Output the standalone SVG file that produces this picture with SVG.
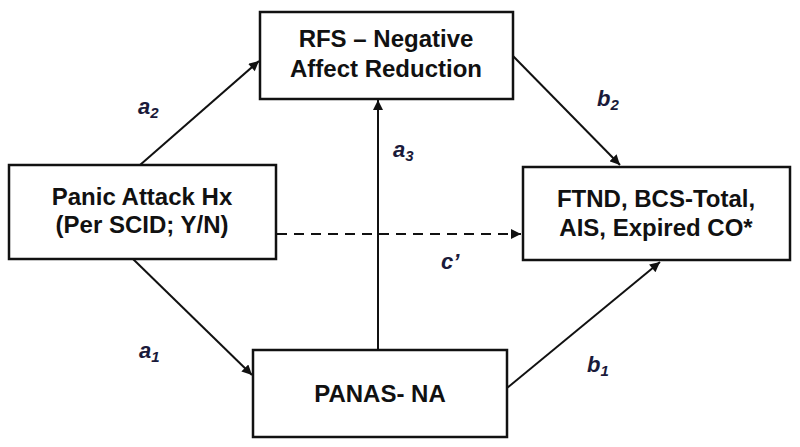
<svg xmlns="http://www.w3.org/2000/svg" width="800" height="447" viewBox="0 0 800 447">
<style>
.box{fill:#fff;stroke:#111;stroke-width:2.5}
.t{font-family:"Liberation Sans",Arial,sans-serif;font-weight:bold;font-size:24px;fill:#111;text-anchor:middle}
.lab{font-family:"Liberation Sans",Arial,sans-serif;font-weight:bold;font-style:italic;font-size:22px;fill:#1a1a3a}
.sub{font-size:15px}
.c{stroke:#111;stroke-width:2;fill:none}
</style>
<defs>
<marker id="ah" viewBox="0 0 10 10" refX="10" refY="5" markerWidth="11" markerHeight="10" markerUnits="userSpaceOnUse" orient="auto">
<path d="M0,0 L10,5 L0,10 z" fill="#111"/>
</marker>
</defs>
<g id="connectors">
<line class="c" x1="140" y1="165" x2="259" y2="61" marker-end="url(#ah)"/>
<line class="c" x1="378" y1="350" x2="378" y2="100" marker-end="url(#ah)"/>
<line class="c" x1="513" y1="56" x2="620" y2="165" marker-end="url(#ah)"/>
<line class="c" x1="133" y1="259" x2="252" y2="375" marker-end="url(#ah)"/>
<line class="c" x1="507" y1="388" x2="660" y2="262" marker-end="url(#ah)"/>
<line class="c" x1="277" y1="234" x2="521" y2="234" stroke-dasharray="10,7" marker-end="url(#ah)"/>
<text class="lab" x="138" y="114">a<tspan class="sub" dy="4">2</tspan></text>
<text class="lab" x="393" y="157">a<tspan class="sub" dy="4">3</tspan></text>
<text class="lab" x="597" y="106">b<tspan class="sub" dy="4">2</tspan></text>
<text class="lab" x="441" y="269">c’</text>
<text class="lab" x="139" y="358">a<tspan class="sub" dy="4">1</tspan></text>
<text class="lab" x="587" y="372">b<tspan class="sub" dy="4">1</tspan></text>
</g>
<g id="rfs">
<rect class="box" x="260" y="12" width="253" height="87"/>
<text class="t" x="386" y="47">RFS – Negative</text>
<text class="t" x="386" y="77">Affect Reduction</text>
</g>
<g id="panic">
<rect class="box" x="9" y="165" width="267" height="94"/>
<text class="t" x="142" y="205">Panic Attack Hx</text>
<text class="t" x="142" y="233">(Per SCID; Y/N)</text>
</g>
<g id="outcome">
<rect class="box" x="523" y="167" width="267" height="93"/>
<text class="t" x="656" y="207">FTND, BCS-Total,</text>
<text class="t" x="656" y="236">AIS, Expired CO*</text>
</g>
<g id="panas">
<rect class="box" x="253" y="350" width="254" height="87"/>
<text class="t" x="380" y="402">PANAS- NA</text>
</g>
</svg>
